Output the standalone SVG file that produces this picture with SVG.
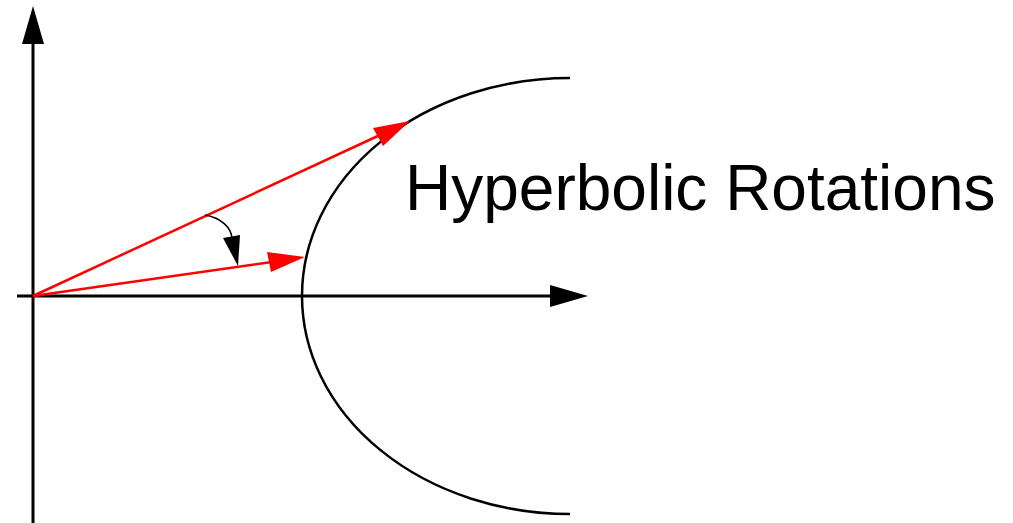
<svg xmlns="http://www.w3.org/2000/svg" width="1013" height="523" viewBox="0 0 1013 523">
<style>
.ax{stroke:#000;stroke-width:3;fill:none}
.red{stroke:#f00;stroke-width:2.5;fill:none}
.curve{stroke:#000;stroke-width:2.5;fill:none}
.thin{stroke:#000;stroke-width:1.5;fill:none}
.lbl{font-family:"Liberation Sans",Arial,sans-serif;font-size:64px;fill:#000}
</style>
<rect width="1013" height="523" fill="#fff"/>
<g id="axes">
<line class="ax" x1="33" y1="523" x2="33" y2="40"/>
<polygon points="33,6 22,44 44,44" fill="#000"/>
<line class="ax" x1="17" y1="296" x2="552" y2="296"/>
<polygon points="588,296 550,285 550,307" fill="#000"/>
</g>
<g id="hyperbola">
<path class="curve" d="M570,78 A268,218 0 0 0 570,514"/>
</g>
<g id="connectors">
<line class="red" x1="33" y1="296" x2="380" y2="135"/>
<polygon points="410,121 373,128 383,146" fill="#f00"/>
<line class="red" x1="33" y1="296" x2="272" y2="262"/>
<polygon points="305,257 267,252 271,272" fill="#f00"/>
<path class="thin" d="M205,215 C222,218 231,228 232,238"/>
<polygon points="238,266 223,238 240,235" fill="#000"/>
</g>
<g id="label">
<text class="lbl" x="405" y="210">Hyperbolic Rotations</text>
</g>
</svg>
